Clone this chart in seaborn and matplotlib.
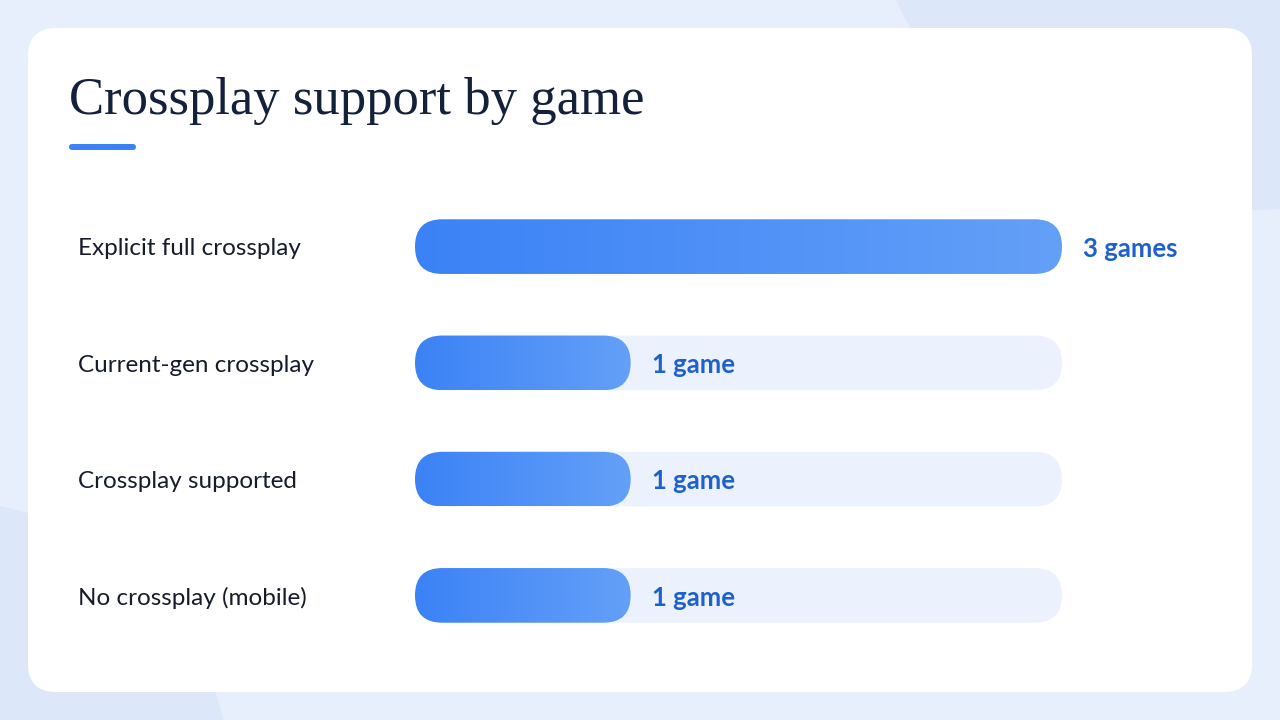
import numpy as np
import pandas as pd
import seaborn as sns
import matplotlib.pyplot as plt
import matplotlib.transforms as mtransforms
from matplotlib.patches import FancyBboxPatch, Ellipse
from matplotlib.colors import LinearSegmentedColormap

# data
categories = ["Explicit full crossplay", "Current-gen crossplay",
              "Crossplay supported", "No crossplay (mobile)"]
games = [3, 1, 1, 1]
value_labels = ["3 games", "1 game", "1 game", "1 game"]
title = "Crossplay support by game"
max_games = 3

sns.set_theme(style="white")
plt.rcParams['font.family'] = ['Lato', 'DejaVu Sans']

fig = plt.figure(figsize=(12.8, 7.2), dpi=100)
fig.patch.set_facecolor('#E8EFFC')

# background + card, drawn in pixel coords
bg = fig.add_axes([0, 0, 1, 1])
bg.set_xlim(0, 1280)
bg.set_ylim(720, 0)
bg.axis('off')
bg.add_patch(Ellipse((1250, -120), 760, 660, color='#DCE7F9', lw=0))
bg.add_patch(Ellipse((-60, 780), 580, 560, color='#DCE7F9', lw=0))
bg.add_patch(FancyBboxPatch((28, 28), 1224, 664, boxstyle="round,pad=0,rounding_size=28",
                            fc='white', ec='none'))
bg.text(69, 114, title, fontsize=38, color='#14213A', va='baseline', ha='left',
        family=['Liberation Serif', 'DejaVu Serif'])
bg.add_patch(FancyBboxPatch((69, 144), 67, 6, boxstyle="round,pad=0,rounding_size=3",
                            fc='#3B82F6', ec='none'))

# bars
df = pd.DataFrame({"category": categories, "games": games})
ax = fig.add_axes([415 / 1280, (720 - 653.5) / 720, 647 / 1280, 465 / 720])
ax.patch.set_alpha(0)
sns.barplot(data=df, x="games", y="category", orient="h", width=0.47, ax=ax)
ax.set_xlim(0, max_games)
ax.set_ylim(3.5, -0.5)

px_x = ax.bbox.width / max_games
px_y = ax.bbox.height / 4.0
asp = px_x / px_y

cmap = LinearSegmentedColormap.from_list("bar", ["#3B82F6", "#64A0F8"])
grad = np.linspace(0, 1, 256).reshape(1, -1)


def pill(x0, y0, w, h, **kw):
    r = h / (2 * asp)
    p = FancyBboxPatch((x0, y0), w, h, boxstyle=f"round,pad=0,rounding_size={r}",
                       mutation_aspect=asp, **kw)
    ax.add_patch(p)
    return p


bars = list(ax.patches)
for bar in bars:
    x0, y0, w, h = bar.get_x(), bar.get_y(), bar.get_width(), bar.get_height()
    bar.remove()
    pill(0, y0, max_games, h, fc='#EBF2FD', ec='none', zorder=1)
    shape = pill(x0, y0, w, h, fc='none', ec='none', zorder=2)
    im = ax.imshow(grad, extent=[x0, x0 + w, y0 + h, y0], aspect='auto', cmap=cmap, zorder=3)
    im.set_clip_path(shape)

for i, (val, lab) in enumerate(zip(games, value_labels)):
    ax.annotate(lab, (val, i + 0.02), xytext=(15, 0), textcoords='offset points',
                va='center', ha='left', fontsize=18.5, fontweight='bold', color='#1E60CC')

blend = mtransforms.blended_transform_factory(fig.transFigure, ax.transData)
for i, cat in enumerate(categories):
    ax.text(78 / 1280, i + 0.02, cat, transform=blend, va='center', ha='left',
            fontsize=17.5, color='#161C2B')

ax.set_xlim(0, max_games)
ax.set_ylim(3.5, -0.5)
ax.axis('off')

fig.savefig("out.png", dpi=100)
